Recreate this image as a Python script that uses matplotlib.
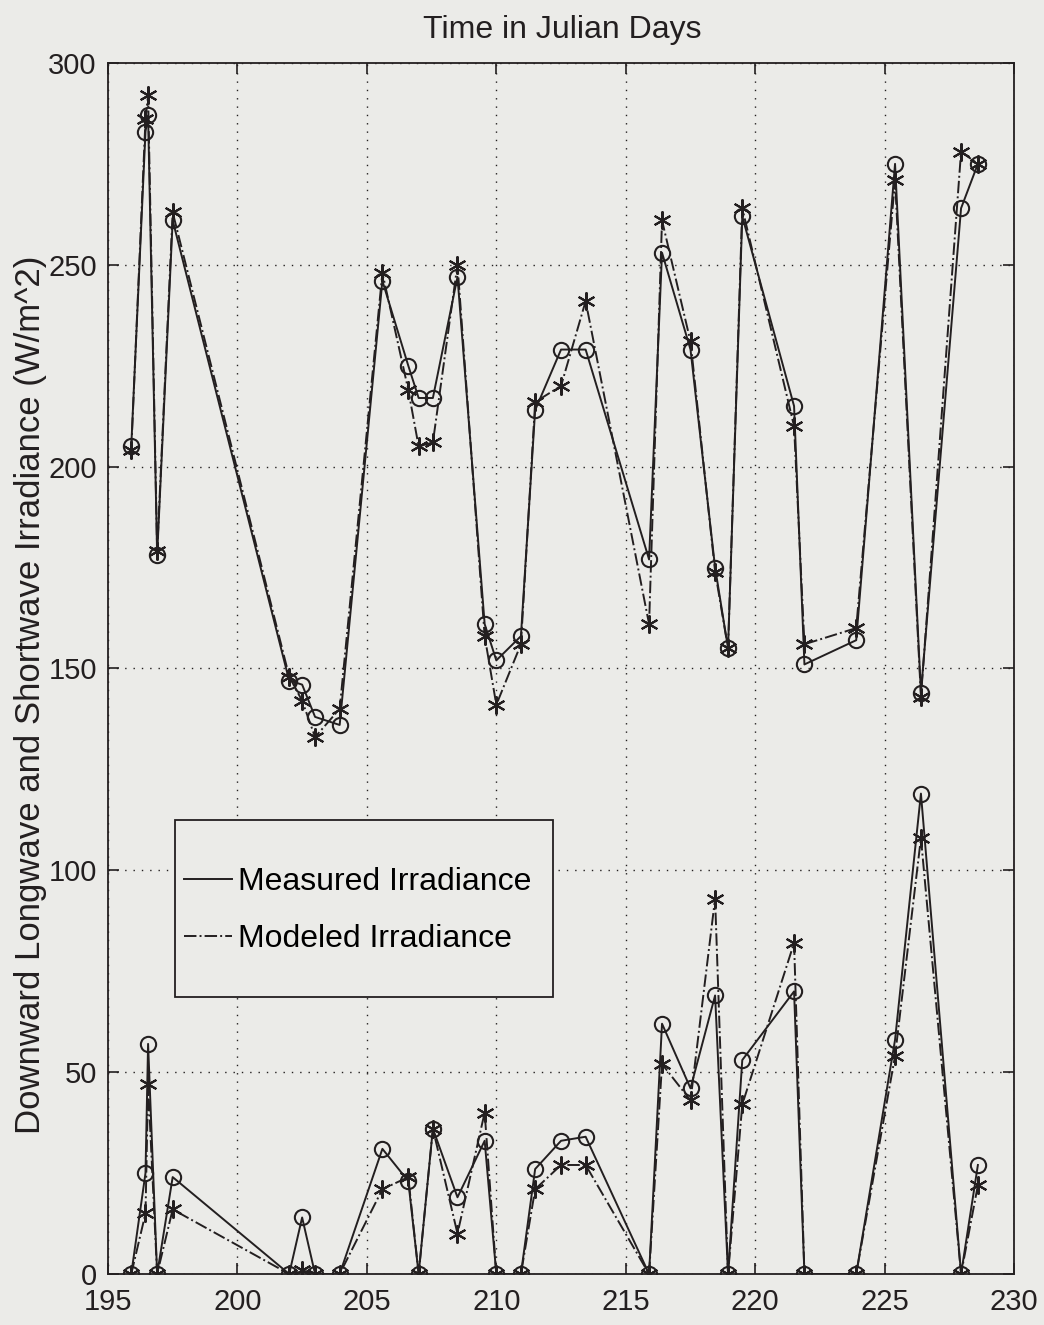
import numpy as np
import matplotlib
matplotlib.use("Agg")
import matplotlib.pyplot as plt
from matplotlib.lines import Line2D
from matplotlib.patches import Rectangle

plt.rcParams['font.family'] = ['Liberation Sans', 'DejaVu Sans']

# julian day of each sample
days = [195.9, 196.45, 196.55, 196.9, 197.5, 202.0, 202.5, 203.0, 203.95,
        205.6, 206.6, 207.0, 207.55, 208.5, 209.55, 210.0, 210.95, 211.5,
        212.5, 213.45, 215.9, 216.4, 217.5, 218.45, 218.95, 219.5, 221.5,
        221.9, 223.9, 225.4, 226.4, 227.95, 228.6]

# longwave (upper group)
lw_meas = [205, 283, 287, 178, 261, 147, 146, 138, 136,
           246, 225, 217, 217, 247, 161, 152, 158, 214,
           229, 229, 177, 253, 229, 175, 155, 262, 215,
           151, 157, 275, 144, 264, 275]
lw_model = [204, 286, 292, 179, 263, 148, 142, 133, 140,
            248, 219, 205, 206, 250, 158, 141, 156, 216,
            220, 241, 161, 261, 231, 174, 155, 264, 210,
            156, 160, 271, 143, 278, 275]

# shortwave (lower group)
sw_meas = [0, 25, 57, 0, 24, 0, 14, 0, 0,
           31, 23, 0, 36, 19, 33, 0, 0, 26,
           33, 34, 0, 62, 46, 69, 0, 53, 70,
           0, 0, 58, 119, 0, 27]
sw_model = [0, 15, 47, 0, 16, 0, 1, 0, 0,
            21, 24, 0, 36, 10, 40, 0, 0, 21,
            27, 27, 0, 52, 43, 93, 0, 42, 82,
            0, 0, 54, 108, 0, 22]

bg = '#ebebe8'
ink = '#231f20'
star = (6, 2, 0)

fig = plt.figure(figsize=(10.44, 13.25), dpi=100, facecolor=bg)
ax = fig.add_axes([0.1034, 0.0385, 0.868, 0.914])
ax.set_facecolor(bg)

for meas, model in [(lw_meas, lw_model), (sw_meas, sw_model)]:
    ax.plot(days, meas, '-', color=ink, lw=1.4, marker='o', ms=11,
            mfc='none', mec=ink, mew=1.5)
    ax.plot(days, model, '-.', color=ink, lw=1.4, marker=star, ms=13,
            mec=ink, mew=1.5)

ax.set_xlim(195, 230)
ax.set_ylim(0, 300)
ax.set_xticks(np.arange(195, 231, 5))
ax.set_yticks(np.arange(0, 301, 50))
ax.grid(True, linestyle=(0, (1, 5)), color=ink, lw=1.0)
ax.tick_params(direction='in', length=8, width=1.2, top=True, right=True,
               labelsize=21, colors=ink)
ax.tick_params(axis='x', pad=10)
ax.tick_params(axis='y', pad=8)
for s in ax.spines.values():
    s.set_color(ink)
    s.set_linewidth(1.3)

ax.set_ylabel('Downward Longwave and Shortwave Irradiance (W/m^2)',
              fontsize=25, color=ink)
ax.yaxis.set_label_coords(-0.067, 0.478)
fig.text(0.539, 0.977, 'Time in Julian Days', ha='center', va='center',
         fontsize=23, color=ink)

# legend box drawn separately so padding matches the original
ax.add_patch(Rectangle((0.074, 0.2287), 0.417, 0.1462, transform=ax.transAxes,
                       facecolor=bg, edgecolor=ink, lw=1.3, zorder=4))
handles = [Line2D([], [], color=ink, lw=1.4, ls='-'),
           Line2D([], [], color=ink, lw=1.4, ls='-.')]
leg = ax.legend(handles, ['Measured Irradiance', 'Modeled Irradiance'],
                loc='center left', bbox_to_anchor=(0.084, 0.2998),
                fontsize=23, frameon=False, borderpad=0,
                labelspacing=0.85, handlelength=1.5, handletextpad=0.2,
                borderaxespad=0)
leg.set_zorder(5)

fig.savefig('out.png', dpi=100, facecolor=bg)
